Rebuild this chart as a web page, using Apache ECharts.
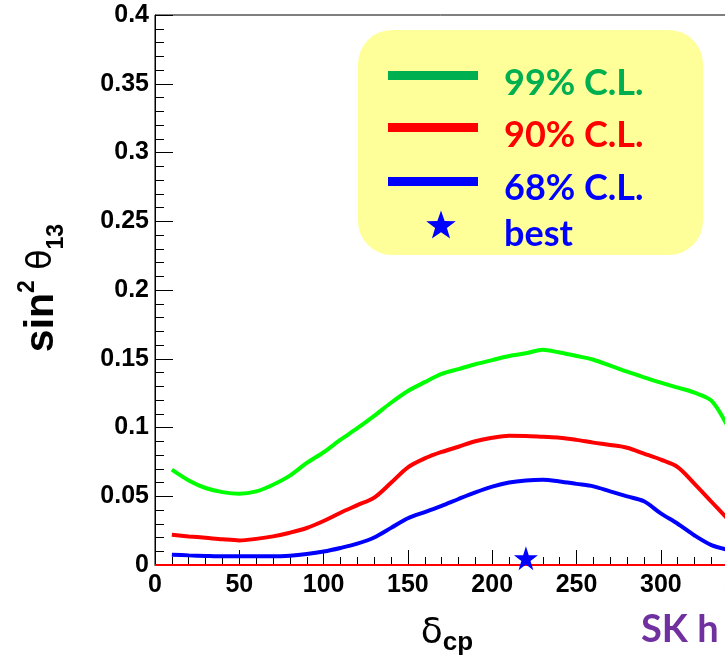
<!DOCTYPE html>
<html>
<head>
<meta charset="utf-8">
<script src="https://cdn.jsdelivr.net/npm/echarts@6/dist/echarts.min.js"></script>
<style>
html,body{margin:0;padding:0;background:#fff;}
#chart{width:725px;height:661px;}
</style>
</head>
<body>
<div id="chart"></div>
<script>
// ---- data ----
const deltaCP = [10,20,30,40,50,60,70,80,90,100,110,120,130,140,150,160,170,180,190,200,210,220,230,240,250,260,270,280,290,300,310,320,330,340];
const cl99 = [0.0693,0.0615,0.056,0.053,0.0518,0.0535,0.0584,0.065,0.0742,0.082,0.0911,0.0995,0.1085,0.118,0.1265,0.133,0.139,0.1425,0.146,0.149,0.152,0.154,0.1566,0.1545,0.152,0.1493,0.145,0.1406,0.1365,0.1326,0.129,0.1253,0.1195,0.1];
const cl90 = [0.022,0.0208,0.0198,0.0187,0.0179,0.019,0.0208,0.0235,0.0269,0.032,0.038,0.0435,0.049,0.0598,0.071,0.0775,0.0822,0.086,0.09,0.0925,0.094,0.0938,0.0932,0.0926,0.091,0.089,0.0873,0.0853,0.081,0.0766,0.0712,0.059,0.046,0.033];
const cl68 = [0.0075,0.007,0.0066,0.0063,0.0063,0.0063,0.0063,0.0068,0.008,0.0098,0.0124,0.0155,0.02,0.027,0.034,0.0385,0.043,0.048,0.0528,0.057,0.06,0.0615,0.062,0.0608,0.059,0.0572,0.0535,0.0499,0.0463,0.0375,0.03,0.0215,0.0145,0.011];
const bestPoint = [220, 0.005];
const legendLabels = ['99% C.L.', '90% C.L.', '68% C.L.', 'best'];
const xTickLabels = [0,50,100,150,200,250,300,350];
const yTickLabels = [0,0.05,0.1,0.15,0.2,0.25,0.3,0.35,0.4];

const STAR = 'M50,0 L61.2,34.5 L97.6,34.5 L68.2,55.9 L79.4,90.5 L50,69.1 L20.6,90.5 L31.8,55.9 L2.4,34.5 L38.8,34.5 Z';
function starPoints(cx, cy, R, r){
  const pts=[];
  for(let i=0;i<10;i++){
    const a = -Math.PI/2 + i*Math.PI/5;
    const rr = i%2===0 ? R : r;
    pts.push([cx+rr*Math.cos(a), cy+rr*Math.sin(a)]);
  }
  return pts;
}
const pair = ys => deltaCP.map((x,i)=>[x, ys[i]]);
const tickFont = {fontFamily:'Liberation Sans', fontWeight:'bold', fontSize:25, color:'#000'};
const legFont = 'Lato';

const chart = echarts.init(document.getElementById('chart'));
chart.setOption({
  animation:false,
  backgroundColor:'#fff',
  grid:{left:155, top:15, width:607, height:550, outerBoundsMode:'none', containLabel:false,
        show:true, borderColor:'#000', borderWidth:1, backgroundColor:'transparent'},
  xAxis:{
    type:'value', min:xTickLabels[0], max:360, interval:50,
    axisLine:{lineStyle:{color:'#000', width:1}},
    axisTick:{inside:true, length:15, lineStyle:{color:'#000'}},
    minorTick:{show:true, splitNumber:5, length:8, lineStyle:{color:'#000'}},
    splitLine:{show:false},
    axisLabel:Object.assign({margin:8, showMaxLabel:false}, tickFont)
  },
  yAxis:{
    type:'value', min:yTickLabels[0], max:yTickLabels[yTickLabels.length-1], interval:0.05,
    axisLine:{show:true, lineStyle:{color:'#000', width:1}},
    axisTick:{show:true, inside:true, length:18, lineStyle:{color:'#000'}},
    minorTick:{show:true, splitNumber:5, length:9, lineStyle:{color:'#000'}},
    splitLine:{show:false},
    axisLabel:Object.assign({margin:6}, tickFont)
  },
  series:[
    {name:legendLabels[0], type:'line', data:pair(cl99), showSymbol:false, symbol:'none', smooth:0.3,
     lineStyle:{color:'#00FF00', width:4}, z:3},
    {name:legendLabels[1], type:'line', data:pair(cl90), showSymbol:false, symbol:'none', smooth:0.3,
     lineStyle:{color:'#FF0000', width:4}, z:3,
     markLine:{silent:true, symbol:'none', label:{show:false}, lineStyle:{color:'#FF0000', width:2, type:'solid'}, data:[{yAxis:0}]}},
    {name:legendLabels[2], type:'line', data:pair(cl68), showSymbol:false, symbol:'none', smooth:0.3,
     lineStyle:{color:'#0000FF', width:4}, z:3},
    {name:legendLabels[3], type:'scatter', data:[bestPoint], symbol:'path://'+STAR, symbolSize:24,
     itemStyle:{color:'#0000FF', opacity:1}, z:5}
  ],
  graphic:[
    {type:'text', x:42, y:288, rotation:Math.PI/2,
     style:{text:'{a|sin}{b|2}{c| θ}{d|13}', align:'center', verticalAlign:'middle',
       rich:{
         a:{fontFamily:'Liberation Sans', fontWeight:'bold', fontSize:41, fill:'#000', lineHeight:52, verticalAlign:'middle'},
         b:{fontFamily:'Liberation Sans', fontWeight:'bold', fontSize:23, fill:'#000', lineHeight:52, verticalAlign:'top'},
         c:{fontFamily:'DejaVu Sans', fontSize:33, fill:'#000', lineHeight:52, verticalAlign:'middle'},
         d:{fontFamily:'Liberation Sans', fontWeight:'bold', fontSize:23, fill:'#000', lineHeight:52, verticalAlign:'bottom'}
       }}},
    {type:'text', x:447, y:634,
     style:{text:'{d|δ}{s|cp}', align:'center', verticalAlign:'middle',
       rich:{
         d:{fontFamily:'DejaVu Sans', fontSize:36, fill:'#000', lineHeight:44, verticalAlign:'middle'},
         s:{fontFamily:'Liberation Sans', fontWeight:'bold', fontSize:26, fill:'#000', lineHeight:44, verticalAlign:'bottom'}
       }}},
    {type:'text', x:641, y:630, style:{text:'SK h', fill:'#7030A0', font:'bold 38px '+legFont, align:'left', verticalAlign:'middle'}},
    {type:'rect', shape:{x:358, y:30, width:345, height:225, r:34}, style:{fill:'#FFFF99'}, z:10},
    {type:'rect', shape:{x:388, y:71, width:90, height:9}, style:{fill:'#00B050'}, z:11},
    {type:'rect', shape:{x:388, y:123, width:90, height:9}, style:{fill:'#FF0000'}, z:11},
    {type:'rect', shape:{x:388, y:177, width:90, height:9}, style:{fill:'#0000FF'}, z:11},
    {type:'polygon', shape:{points:starPoints(441, 226, 15.5, 6.2)}, style:{fill:'#0000FF'}, z:11},
    {type:'text', x:504, y:83, style:{text:legendLabels[0], fill:'#00B050', font:'bold 36px '+legFont, align:'left', verticalAlign:'middle'}, z:11},
    {type:'text', x:504, y:135, style:{text:legendLabels[1], fill:'#FF0000', font:'bold 36px '+legFont, align:'left', verticalAlign:'middle'}, z:11},
    {type:'text', x:504, y:188, style:{text:legendLabels[2], fill:'#0000FF', font:'bold 36px '+legFont, align:'left', verticalAlign:'middle'}, z:11},
    {type:'text', x:504, y:234, style:{text:legendLabels[3], fill:'#0000FF', font:'bold 36px '+legFont, align:'left', verticalAlign:'middle'}, z:11}
  ]
});
</script>
</body>
</html>
